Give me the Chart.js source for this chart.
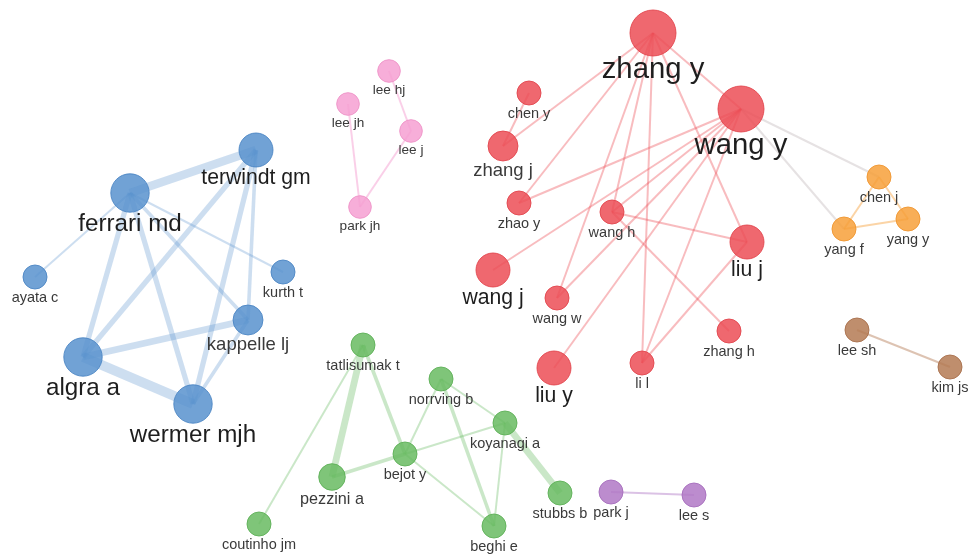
<!DOCTYPE html>
<html>
<head>
<meta charset="utf-8">
<script src="https://cdn.jsdelivr.net/npm/chart.js@4"></script>
<style>
  body { margin: 0; background: #fff; }
  #wrap { width: 969px; height: 555px; }
</style>
</head>
<body>
<div id="wrap"><canvas id="net"></canvas></div>
<script>
// authors (nodes)
const names = ['ferrari md', 'terwindt gm', 'ayata c', 'kurth t', 'kappelle lj', 'algra a', 'wermer mjh',
  'lee hj', 'lee jh', 'lee j', 'park jh',
  'zhang y', 'wang y', 'chen y', 'zhang j', 'zhao y', 'wang h', 'liu j', 'wang j', 'wang w', 'zhang h', 'liu y', 'li l',
  'chen j', 'yang f', 'yang y', 'lee sh', 'kim js',
  'tatlisumak t', 'norrving b', 'koyanagi a', 'bejot y', 'pezzini a', 'coutinho jm', 'beghi e', 'stubbs b',
  'park j', 'lee s'];
const layoutX = [130, 256, 35, 283, 248, 83, 193,
  389, 348, 411, 360,
  653, 741, 529, 503, 519, 612, 747, 493, 557, 729, 554, 642,
  879, 844, 908, 857, 950,
  363, 441, 505, 405, 332, 259, 494, 560,
  611, 694];
const layoutY = [193, 150, 277, 272, 320, 357, 404,
  71, 104, 131, 207,
  33, 109, 93, 146, 203, 212, 242, 270, 298, 331, 368, 363,
  177, 229, 219, 330, 367,
  345, 379, 423, 454, 477, 524, 526, 493,
  492, 495];
const docs = [23, 18, 9, 9, 14, 23, 23,
  8, 8, 8, 8,
  33, 33, 9, 14, 9, 9, 18, 18, 9, 9, 18, 9,
  9, 9, 9, 9, 9,
  9, 9, 9, 9, 11, 9, 9, 9,
  9, 9];
const cluster = [0, 0, 0, 0, 0, 0, 0,
  1, 1, 1, 1,
  2, 2, 2, 2, 2, 2, 2, 2, 2, 2, 2, 2,
  3, 3, 3, 4, 4,
  5, 5, 5, 5, 5, 5, 5, 5,
  6, 6];

// co-authorship links: from, to, strength
const linkFrom = ['ferrari md', 'algra a', 'algra a', 'ferrari md', 'ferrari md', 'terwindt gm', 'terwindt gm', 'terwindt gm', 'wermer mjh', 'ferrari md', 'ferrari md', 'ferrari md',
  'lee hj', 'lee j', 'lee jh',
  'zhang y', 'zhang y', 'zhang y', 'zhang y', 'zhang y', 'zhang y', 'zhang y',
  'wang y', 'wang y', 'wang y', 'wang y', 'wang y', 'wang y',
  'chen y', 'wang h', 'wang h', 'liu j',
  'wang y', 'wang y', 'chen j', 'chen j', 'yang f', 'lee sh',
  'tatlisumak t', 'tatlisumak t', 'tatlisumak t', 'pezzini a', 'bejot y', 'bejot y', 'bejot y', 'norrving b', 'norrving b', 'koyanagi a', 'koyanagi a',
  'park j'];
const linkTo = ['terwindt gm', 'wermer mjh', 'kappelle lj', 'algra a', 'wermer mjh', 'algra a', 'wermer mjh', 'kappelle lj', 'kappelle lj', 'kappelle lj', 'kurth t', 'ayata c',
  'lee j', 'park jh', 'park jh',
  'wang y', 'zhang j', 'zhao y', 'wang w', 'wang h', 'li l', 'liu j',
  'zhao y', 'wang j', 'wang h', 'wang w', 'liu y', 'li l',
  'zhang j', 'liu j', 'zhang h', 'li l',
  'chen j', 'yang f', 'yang f', 'yang y', 'yang y', 'kim js',
  'pezzini a', 'bejot y', 'coutinho jm', 'bejot y', 'norrving b', 'koyanagi a', 'beghi e', 'koyanagi a', 'beghi e', 'beghi e', 'stubbs b',
  'lee s'];
const linkStrength = [5, 6, 4, 3, 3, 3, 3, 2, 2, 2, 1, 1,
  1, 1, 1,
  1, 1, 1, 1, 1, 1, 1,
  1, 1, 1, 1, 1, 1,
  1, 1, 1, 1,
  1, 1, 1, 1, 1, 1,
  4, 2, 1, 2, 1, 1, 1, 1, 2, 1, 4,
  1];

const nodeFill = ['rgba(88,146,206,0.85)', 'rgba(246,160,210,0.85)', 'rgba(236,78,86,0.85)',
  'rgba(247,160,58,0.85)', 'rgba(180,122,84,0.85)', 'rgba(104,187,98,0.85)', 'rgba(176,120,198,0.85)'];
const nodeLine = ['rgba(76,134,196,0.9)', 'rgba(238,148,200,0.9)', 'rgba(226,70,78,0.9)',
  'rgba(240,150,48,0.9)', 'rgba(168,112,76,0.9)', 'rgba(94,176,88,0.9)', 'rgba(166,110,188,0.9)'];
const linkColor = ['rgba(88,146,206,0.3)', 'rgba(246,160,210,0.5)', 'rgba(236,78,86,0.38)',
  'rgba(247,160,58,0.45)', 'rgba(180,122,84,0.45)', 'rgba(104,187,98,0.35)', 'rgba(176,120,198,0.45)'];

const radius = d => 4 * Math.sqrt(d);
const fontPx = r => 14.5 + (r - 12) * 1.35;

const datasets = [];
for (let i = 0; i < linkFrom.length; i++) {
  const a = names.indexOf(linkFrom[i]);
  const b = names.indexOf(linkTo[i]);
  const mixed = cluster[a] !== cluster[b];
  datasets.push({
    type: 'line',
    order: 1,
    data: [{ x: layoutX[a], y: layoutY[a] }, { x: layoutX[b], y: layoutY[b] }],
    borderColor: mixed ? 'rgba(200,190,192,0.45)' : linkColor[cluster[a]],
    borderWidth: 2 + (linkStrength[i] - 1) * 1.6,
    pointRadius: 0,
    fill: false,
  });
}
datasets.push({
  type: 'bubble',
  order: 0,
  data: names.map((n, i) => ({ x: layoutX[i], y: layoutY[i], r: radius(docs[i]) })),
  backgroundColor: names.map((n, i) => nodeFill[cluster[i]]),
  borderColor: names.map((n, i) => nodeLine[cluster[i]]),
  borderWidth: 1,
});

const labels = {
  id: 'labels',
  afterDatasetsDraw(chart) {
    const ctx = chart.ctx;
    const xs = chart.scales.x;
    const ys = chart.scales.y;
    ctx.save();
    ctx.textAlign = 'center';
    ctx.textBaseline = 'middle';
    names.forEach((n, i) => {
      const r = radius(docs[i]);
      const fs = fontPx(r);
      ctx.font = `${fs.toFixed(1)}px "Liberation Sans", Arial, sans-serif`;
      ctx.fillStyle = r > 16 ? '#1e1e1e' : '#3a3a3a';
      ctx.fillText(n, xs.getPixelForValue(layoutX[i]), ys.getPixelForValue(layoutY[i]) + r + fs * 0.38 + 3);
    });
    ctx.restore();
  },
};

new Chart(document.getElementById('net'), {
  type: 'scatter',
  data: { datasets: datasets },
  options: {
    responsive: true,
    maintainAspectRatio: false,
    animation: false,
    layout: { padding: 0, autoPadding: false },
    scales: {
      x: { type: 'linear', min: 0, max: 969, display: false },
      y: { type: 'linear', min: 0, max: 555, reverse: true, display: false },
    },
    plugins: { legend: { display: false }, tooltip: { enabled: false } },
  },
  plugins: [labels],
});
</script>
</body>
</html>
